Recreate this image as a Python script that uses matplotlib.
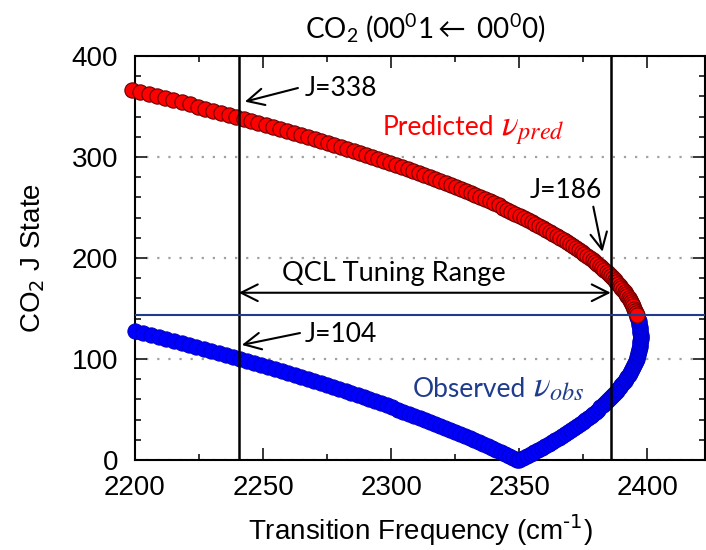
import matplotlib
matplotlib.use("Agg")
import matplotlib.pyplot as plt
from matplotlib.ticker import MultipleLocator

plt.rcParams["font.family"] = ["Liberation Sans", "DejaVu Sans"]
plt.rcParams["mathtext.fontset"] = "custom"
plt.rcParams["mathtext.rm"] = "Lato"
plt.rcParams["mathtext.it"] = "Lato:italic"
plt.rcParams["mathtext.bf"] = "Lato:bold"

# P branch, observed (J'' from 128 down to 0)
p_obs_j = [128, 126, 124, 122, 120, 118, 116, 114, 112, 110, 108, 106, 104, 102, 100,
           98, 96, 94, 92, 90, 88, 86, 84, 82, 80, 78, 76, 74, 72, 70, 68, 66, 64, 62,
           60, 58, 56, 54, 52, 50, 48, 46, 44, 42, 40, 38, 36, 34, 32, 30, 28, 26, 24,
           22, 20, 18, 16, 14, 12, 10, 8, 6, 4, 2, 0]
p_obs_nu = [2200.1, 2203.1, 2206.2, 2209.2, 2212.2, 2215.2, 2218.2, 2221.1, 2224.0, 2226.9,
            2229.8, 2232.6, 2235.5, 2238.3, 2241.0, 2243.8, 2246.5, 2249.2, 2251.9, 2254.5,
            2257.2, 2259.8, 2262.4, 2264.9, 2267.5, 2270.0, 2272.5, 2274.9, 2277.4, 2279.8,
            2282.2, 2284.5, 2286.9, 2289.2, 2291.5, 2293.8, 2296.0, 2298.3, 2300.5, 2302.6,
            2304.8, 2306.9, 2309.0, 2311.1, 2313.1, 2315.2, 2317.2, 2319.2, 2321.1, 2323.1,
            2325.0, 2326.9, 2328.7, 2330.6, 2332.4, 2334.2, 2335.9, 2337.7, 2339.4, 2341.1,
            2342.7, 2344.4, 2346.0, 2347.6, 2349.1]

# R branch, observed (J'' from 0 up to 142)
r_obs_j = [0, 2, 4, 6, 8, 10, 12, 14, 16, 18, 20, 22, 24, 26, 28, 30, 32, 34, 36, 38, 40,
           42, 44, 46, 48, 50, 52, 54, 56, 58, 60, 62, 64, 66, 68, 70, 72, 74, 76, 78, 80,
           82, 84, 86, 88, 90, 92, 94, 96, 98, 100, 102, 104, 106, 108, 110, 112, 114, 116,
           118, 120, 122, 124, 126, 128, 130, 132, 134, 136, 138, 140, 142]
r_obs_nu = [2349.9, 2351.4, 2353.0, 2354.4, 2355.9, 2357.3, 2358.7, 2360.1, 2361.5, 2362.8,
            2364.1, 2365.4, 2366.6, 2367.9, 2369.1, 2370.3, 2371.4, 2372.6, 2373.7, 2374.8,
            2375.8, 2376.8, 2377.9, 2378.8, 2379.8, 2380.7, 2381.6, 2382.5, 2383.4, 2384.2,
            2385.0, 2385.8, 2386.5, 2387.3, 2388.0, 2388.7, 2389.3, 2389.9, 2390.5, 2391.1,
            2391.7, 2392.2, 2392.7, 2393.2, 2393.6, 2394.1, 2394.5, 2394.8, 2395.2, 2395.5,
            2395.8, 2396.1, 2396.3, 2396.5, 2396.7, 2396.9, 2397.1, 2397.2, 2397.3, 2397.3,
            2397.4, 2397.4, 2397.4, 2397.3, 2397.3, 2397.2, 2397.1, 2396.9, 2396.8, 2396.6,
            2396.3, 2396.1]

# R branch, predicted (J'' from 366 down to 144)
r_pred_j = [366, 364, 362, 360, 358, 356, 354, 352, 350, 348, 346, 344, 342, 340, 338, 336,
            334, 332, 330, 328, 326, 324, 322, 320, 318, 316, 314, 312, 310, 308, 306, 304,
            302, 300, 298, 296, 294, 292, 290, 288, 286, 284, 282, 280, 278, 276, 274, 272,
            270, 268, 266, 264, 262, 260, 258, 256, 254, 252, 250, 248, 246, 244, 242, 240,
            238, 236, 234, 232, 230, 228, 226, 224, 222, 220, 218, 216, 214, 212, 210, 208,
            206, 204, 202, 200, 198, 196, 194, 192, 190, 188, 186, 184, 182, 180, 178, 176,
            174, 172, 170, 168, 166, 164, 162, 160, 158, 156, 154, 152, 150, 148, 146, 144]
r_pred_nu = [2198.8, 2202.1, 2205.4, 2208.6, 2211.8, 2215.0, 2218.2, 2221.3, 2224.4, 2227.4,
             2230.5, 2233.5, 2236.5, 2239.4, 2242.4, 2245.2, 2248.1, 2251.0, 2253.8, 2256.6,
             2259.3, 2262.0, 2264.7, 2267.4, 2270.1, 2272.7, 2275.3, 2277.8, 2280.4, 2282.9,
             2285.4, 2287.8, 2290.2, 2292.6, 2295.0, 2297.3, 2299.6, 2301.9, 2304.2, 2306.4,
             2308.6, 2310.8, 2312.9, 2315.1, 2317.2, 2319.2, 2321.3, 2323.3, 2325.3, 2327.2,
             2329.1, 2331.0, 2332.9, 2334.8, 2336.6, 2338.4, 2340.1, 2341.9, 2343.6, 2345.3,
             2346.9, 2348.5, 2350.1, 2351.7, 2353.3, 2354.8, 2356.3, 2357.7, 2359.2, 2360.6,
             2362.0, 2363.3, 2364.7, 2366.0, 2367.3, 2368.5, 2369.7, 2370.9, 2372.1, 2373.2,
             2374.4, 2375.4, 2376.5, 2377.5, 2378.6, 2379.5, 2380.5, 2381.4, 2382.3, 2383.2,
             2384.1, 2384.9, 2385.7, 2386.5, 2387.2, 2387.9, 2388.6, 2389.3, 2389.9, 2390.5,
             2391.1, 2391.7, 2392.2, 2392.7, 2393.2, 2393.6, 2394.1, 2394.5, 2394.9, 2395.2,
             2395.5, 2395.8]

qcl_range = [2240.5, 2385.7]
obs_limit_j = 144

BLUE_FACE = "#0000FF"
BLUE_EDGE = "#0000C8"
RED_FACE = "#FF0000"
RED_EDGE = "#6A0000"
NAVY = "#1F3C8C"

fig = plt.figure(figsize=(7.06, 5.5), dpi=100)
ax = fig.add_axes([135 / 706, 90 / 550, 570 / 706, 404 / 550])

mk = dict(marker="o", ms=11, ls="none", zorder=3, clip_on=False)
ax.plot(p_obs_nu, p_obs_j, mfc=BLUE_FACE, mec=BLUE_EDGE, mew=0.7, **mk)
ax.plot(r_obs_nu, r_obs_j, mfc=BLUE_FACE, mec=BLUE_EDGE, mew=0.7, **mk)
ax.plot(r_pred_nu, r_pred_j, mfc=RED_FACE, mec=RED_EDGE, mew=0.8, **mk)

for x in qcl_range:
    ax.axvline(x, color="black", lw=1.8, zorder=4)
ax.axhline(obs_limit_j, color=NAVY, lw=1.5, zorder=4)

ax.set_xlim(2200, 2422.5)
ax.set_ylim(0, 400)
ax.xaxis.set_major_locator(MultipleLocator(50))
ax.xaxis.set_minor_locator(MultipleLocator(25))
ax.yaxis.set_major_locator(MultipleLocator(100))
ax.yaxis.set_minor_locator(MultipleLocator(20))
ax.tick_params(which="both", direction="in", top=True, right=True, width=1.1)
ax.tick_params(which="major", length=8.6, labelsize=20)
ax.tick_params(which="minor", length=4.5)
ax.tick_params(axis="y", pad=12)
ax.tick_params(axis="x", pad=11)
for sp in ax.spines.values():
    sp.set_linewidth(1.5)
ax.grid(axis="y", which="major", color="#A0A0A0", linestyle=(0, (1, 4)), lw=1.6)
ax.set_axisbelow(True)

ax.set_xlabel(r"Transition Frequency (cm$^{\text{-1}}$)", fontsize=20, labelpad=8,
              math_fontfamily="dejavusans")
ax.set_ylabel(r"CO$_2$ J State", fontsize=20, labelpad=18, math_fontfamily="dejavusans")
fig.text(0.602, 0.949, r"CO$_2$ (00$^0$1$\leftarrow$ 00$^0$0)", fontfamily="Lato",
         fontsize=20, ha="center", va="center", math_fontfamily="custom")

arrow = dict(arrowstyle="->,head_length=0.6,head_width=0.3", mutation_scale=20,
             lw=1.5, color="black", shrinkA=0, shrinkB=0)
ax.annotate("", xy=(2242.9, 354.8), xytext=(2263.6, 368.3), arrowprops=arrow, zorder=5)
ax.annotate("", xy=(2241.7, 113.9), xytext=(2264.4, 125.7), arrowprops=arrow, zorder=5)
ax.annotate("", xy=(2382.5, 206.2), xytext=(2378.9, 250.8), arrowprops=arrow, zorder=5)
ax.annotate("", xy=(qcl_range[0], 165.6), xytext=(qcl_range[1], 165.6), zorder=5,
            arrowprops=dict(arrow, arrowstyle="<->,head_length=0.6,head_width=0.3"))

txt = dict(fontfamily="Lato", fontsize=19)
ax.text(2266.4, 368.3, "J=338", ha="left", va="center", **txt)
ax.text(2266.4, 123.8, "J=104", ha="left", va="center", **txt)
ax.text(2368.2, 267.3, "J=186", ha="center", va="center", **txt)
ax.text(2301.0, 177.5, "QCL Tuning Range", ha="center", va="baseline", fontfamily="Lato",
        fontsize=19.5)

# series names: word in Lato, symbol in a larger math face right after it
fig.canvas.draw()
inv = ax.transData.inverted()
for x0, y0, word, sym, col in [(2296.8, 321.8, "Predicted", r"$\nu_{pred}$", RED_FACE),
                               (2308.5, 62.7, "Observed", r"$\nu_{obs}$", NAVY)]:
    t = ax.text(x0, y0, word, color=col, ha="left", va="baseline", **txt)
    bb = t.get_window_extent(fig.canvas.get_renderer())
    x1 = inv.transform((bb.x1 + 7, bb.y0))[0]
    ax.text(x1, y0, sym, color=col, ha="left", va="baseline", fontsize=25,
            math_fontfamily="stix")

fig.savefig("out.png", dpi=100)
